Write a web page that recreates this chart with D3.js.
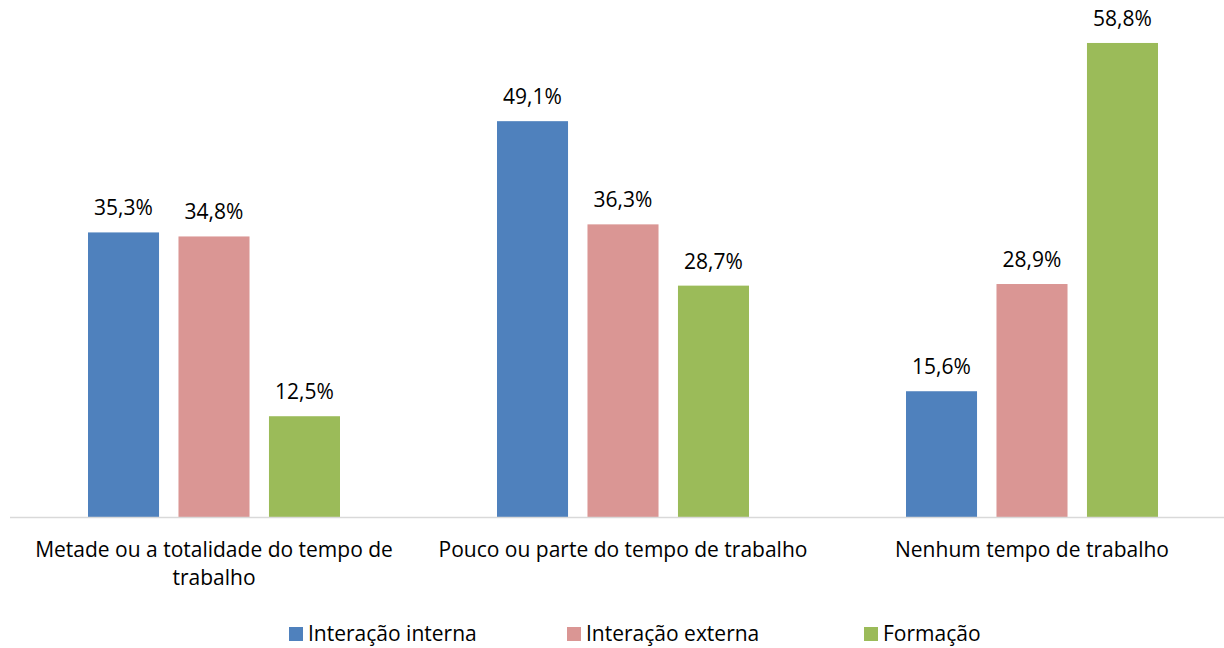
<!DOCTYPE html>
<html><head><meta charset="utf-8">
<script src="https://cdn.jsdelivr.net/npm/d3@7"></script>
<style>body{margin:0;background:#fff}svg{display:block}text{font-family:"Open Sans",sans-serif;fill:#000}</style>
</head><body><svg id="c" width="1224" height="648"></svg>
<script>
const categories = [["Metade ou a totalidade do tempo de","trabalho"],["Pouco ou parte do tempo de trabalho"],["Nenhum tempo de trabalho"]];
const categoryKeys = ["Metade","Pouco","Nenhum"];
const seriesNames = ["Interação interna","Interação externa","Formação"];
const interna = [35.3, 49.1, 15.6];
const externa = [34.8, 36.3, 28.9];
const formacao = [12.5, 28.7, 58.8];
const colors = ["#4F81BD","#DA9694","#9BBB59"];
const series = [interna, externa, formacao];

const svg = d3.select("#c");
const x0 = d3.scaleBand().domain(categoryKeys).range([9.5, 1236.5]).paddingInner(0).paddingOuter(0);
const x1 = d3.scaleBand().domain(seriesNames).range([78.5, 409-78.5]).paddingInner(0.215).paddingOuter(0);
const y = d3.scaleLinear().domain([0, 60]).range([517, 33.3]);
const fmt = v => v.toFixed(1).replace(".", ",") + "%";

categoryKeys.forEach((k, i) => {
  const g = svg.append("g").attr("transform", `translate(${x0(k)},0)`);
  seriesNames.forEach((s, j) => {
    const v = series[j][i];
    g.append("rect").attr("x", x1(s)).attr("width", x1.bandwidth())
      .attr("y", y(v)).attr("height", y(0) - y(v)).attr("fill", colors[j]);
    g.append("text").attr("x", x1(s) + x1.bandwidth()/2).attr("y", y(v) - 17)
      .attr("text-anchor", "middle").attr("font-size", 21).text(fmt(v));
  });
});

svg.append("line").attr("x1", 10).attr("x2", 1224).attr("y1", 517.5).attr("y2", 517.5)
  .attr("stroke", "#D9D9D9").attr("stroke-width", 1.5);

const xa = svg.append("g").attr("transform", "translate(0,517)")
  .call(d3.axisBottom(x0).tickSize(0).tickFormat(""));
xa.select(".domain").remove();
categoryKeys.forEach((k, i) => {
  const t = svg.append("text").attr("x", x0(k) + x0.bandwidth()/2).attr("y", 557)
    .attr("text-anchor", "middle").attr("font-size", 21);
  categories[i].forEach((line, li) => {
    t.append("tspan").attr("x", x0(k) + x0.bandwidth()/2).attr("dy", li === 0 ? 0 : 28).text(line);
  });
});

const legX = [289, 567, 864];
seriesNames.forEach((s, j) => {
  svg.append("rect").attr("x", legX[j]).attr("y", 627).attr("width", 14).attr("height", 14).attr("fill", colors[j]);
  svg.append("text").attr("x", legX[j] + 19).attr("y", 641).attr("font-size", 21).text(s);
});
</script></body></html>
